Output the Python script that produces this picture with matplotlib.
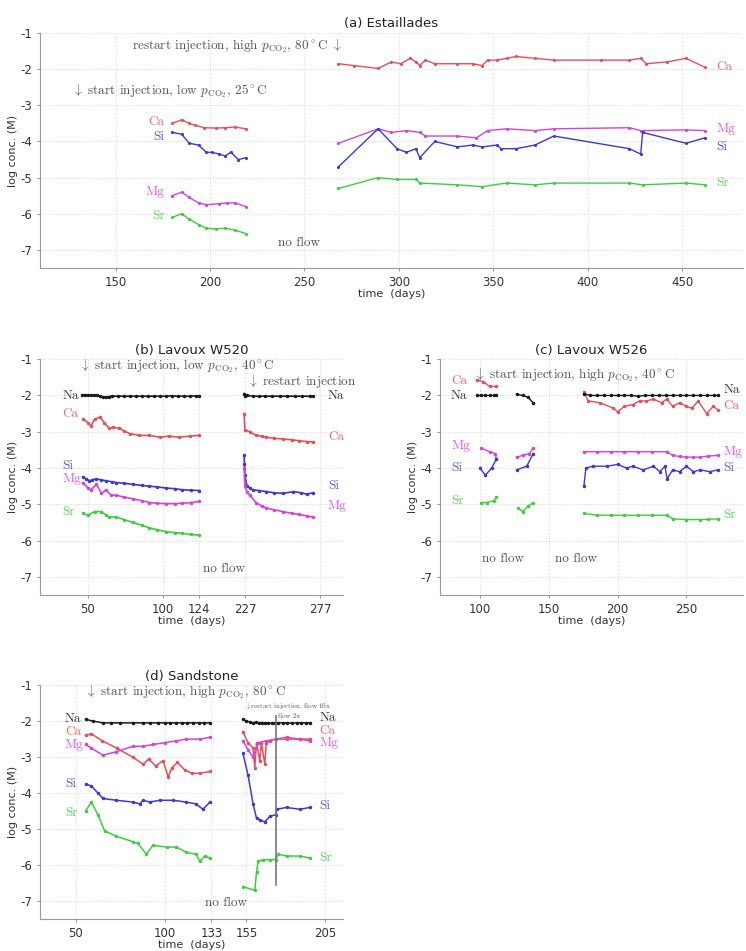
import numpy as np
import matplotlib.pyplot as plt

plt.rcParams['mathtext.fontset'] = 'cm'
plt.rcParams['axes.unicode_minus'] = False

# colours of the species
C = {'Na': '#1a1a1a', 'Ca': '#e4505a', 'Mg': '#d444d4', 'Si': '#3a3ad2', 'Sr': '#3fcc3f'}
ANN = '#555555'

# ---------------- (a) Estaillades ----------------
a_ca1_t = [180, 185, 189, 192, 197, 203, 208, 213, 219]
a_ca1_v = [-3.5, -3.4, -3.5, -3.55, -3.62, -3.63, -3.62, -3.6, -3.65]
a_si1_t = [180, 185, 189, 194, 198, 201, 205, 208, 211, 215, 219]
a_si1_v = [-3.75, -3.8, -4.05, -4.1, -4.3, -4.3, -4.35, -4.4, -4.3, -4.5, -4.45]
a_mg1_t = [180, 185, 189, 194, 198, 205, 209, 213, 219]
a_mg1_v = [-5.5, -5.4, -5.55, -5.7, -5.75, -5.72, -5.7, -5.7, -5.8]
a_sr1_t = [180, 185, 189, 194, 198, 203, 208, 213, 219]
a_sr1_v = [-6.1, -6.0, -6.15, -6.3, -6.4, -6.42, -6.4, -6.45, -6.55]

a_ca2_t = [268, 276, 289, 296, 301, 306, 309, 311, 314, 319, 331, 339, 344, 347, 352, 357, 362, 372,
           382, 407, 422, 428, 431, 442, 452, 462]
a_ca2_v = [-1.85, -1.9, -1.98, -1.8, -1.85, -1.7, -1.8, -1.9, -1.75, -1.85, -1.85, -1.85, -1.9, -1.75,
           -1.75, -1.7, -1.65, -1.7, -1.75, -1.75, -1.75, -1.7, -1.85, -1.8, -1.7, -1.95]
a_mg2_t = [268, 289, 296, 304, 311, 314, 331, 341, 347, 357, 372, 382, 422, 428, 452, 462]
a_mg2_v = [-4.05, -3.65, -3.75, -3.7, -3.75, -3.85, -3.85, -3.9, -3.7, -3.65, -3.7, -3.65, -3.62,
           -3.7, -3.68, -3.7]
a_si2_t = [268, 289, 299, 304, 309, 311, 319, 331, 339, 344, 352, 354, 362, 372, 382, 422, 428, 429,
           452, 462]
a_si2_v = [-4.7, -3.65, -4.2, -4.3, -4.2, -4.45, -4.0, -4.15, -4.1, -4.15, -4.1, -4.2, -4.2, -4.1,
           -3.85, -4.2, -4.35, -3.75, -4.05, -3.9]
a_sr2_t = [268, 289, 299, 309, 311, 331, 344, 357, 372, 382, 422, 429, 452, 462]
a_sr2_v = [-5.3, -5.0, -5.05, -5.05, -5.15, -5.2, -5.25, -5.15, -5.2, -5.15, -5.15, -5.2, -5.15, -5.2]

# ---------------- (b) Lavoux W520 ----------------
b_ticks = [50, 100, 124, 227, 277]
b_days = [0, 124, 227, 400]
b_pos = [0, 124, 155, 328]

b_na1_t = [46, 48, 50, 52, 54, 56, 58, 60, 62, 64, 66, 70, 74, 78, 82, 86, 90, 94, 98, 102, 106, 110,
           114, 118, 122, 125]
b_na1_v = [-2.0, -1.98, -2.0, -1.99, -2.0, -2.0, -2.02, -2.04, -2.05, -2.03, -2.02, -2.02, -2.02,
           -2.02, -2.02, -2.02, -2.02, -2.02, -2.02, -2.02, -2.01, -2.02, -2.02, -2.02, -2.01, -2.01]
b_ca1_t = [46.7, 50, 52, 54.4, 58, 61, 64, 67, 71, 74, 78, 84, 91, 98, 104, 111, 118, 124]
b_ca1_v = [-2.65, -2.75, -2.85, -2.65, -2.6, -2.75, -2.9, -2.88, -2.9, -2.98, -3.05, -3.1, -3.1,
           -3.15, -3.12, -3.15, -3.12, -3.1]
b_si1_t = [46.7, 49, 51, 53, 55.6, 59, 62, 66, 69, 74, 80, 86, 91, 96, 102, 108, 113, 119, 125]
b_si1_v = [-4.25, -4.3, -4.35, -4.32, -4.3, -4.33, -4.35, -4.38, -4.4, -4.42, -4.45, -4.48, -4.5,
           -4.52, -4.55, -4.57, -4.6, -4.61, -4.62]
b_mg1_t = [46.7, 50, 52, 55.6, 59, 62, 65.5, 69, 74, 80, 86, 91, 96, 102, 108, 113, 119, 125]
b_mg1_v = [-4.4, -4.55, -4.6, -4.45, -4.7, -4.6, -4.75, -4.75, -4.8, -4.85, -4.9, -4.95, -4.97,
           -4.98, -4.98, -4.97, -4.95, -4.92]
b_sr1_t = [46.7, 50, 54.4, 59, 62, 64, 69, 74, 80, 86, 91, 96, 102, 108, 113, 119, 125]
b_sr1_v = [-5.25, -5.3, -5.2, -5.2, -5.3, -5.35, -5.35, -5.42, -5.5, -5.58, -5.65, -5.7, -5.75,
           -5.78, -5.8, -5.83, -5.85]

b_na2_t = [224, 226, 228, 232, 236, 240, 245, 250, 255, 260, 265, 270, 272]
b_na2_v = [-1.95, -2.02, -2.0, -2.02, -2.02, -2.02, -2.02, -2.02, -2.02, -2.02, -2.02, -2.02, -2.02]
b_ca2_t = [224, 226, 230, 234, 238, 241, 246, 252, 258, 263, 268, 272]
b_ca2_v = [-2.5, -2.95, -3.0, -3.1, -3.12, -3.15, -3.18, -3.2, -3.22, -3.25, -3.27, -3.28]
b_si2_t = [224, 225, 226, 228, 230, 232, 236, 241, 246, 252, 259, 264, 268, 272]
b_si2_v = [-3.65, -3.9, -4.2, -4.5, -4.55, -4.6, -4.62, -4.65, -4.68, -4.7, -4.65, -4.68, -4.72, -4.68]
b_mg2_t = [224, 226, 228, 230, 234, 238, 241, 246, 252, 258, 263, 268, 272]
b_mg2_v = [-4.0, -4.5, -4.65, -4.75, -4.95, -5.05, -5.1, -5.15, -5.2, -5.25, -5.28, -5.32, -5.35]

# ---------------- (c) Lavoux W526 ----------------
c_ca1_t = [97.6, 102.4, 107, 112]
c_ca1_v = [-1.57, -1.62, -1.75, -1.75]
c_na1_t = [98, 101, 104, 107, 110, 112]
c_na1_v = [-2.0, -2.0, -2.0, -2.0, -2.0, -2.0]
c_mg1_t = [101, 107, 111, 112]
c_mg1_v = [-3.45, -3.55, -3.6, -3.75]
c_si1_t = [100, 104, 108.5, 112]
c_si1_v = [-4.0, -4.2, -4.0, -3.75]
c_sr1_t = [101, 105, 110, 112]
c_sr1_v = [-4.95, -4.95, -4.9, -4.8]

c_na1b_t = [126.6, 131, 135, 138.7]
c_na1b_v = [-1.97, -2.0, -2.05, -2.2]
c_mg1b_t = [126.6, 131, 136, 138.7]
c_mg1b_v = [-3.7, -3.65, -3.6, -3.45]
c_si1b_t = [126.6, 134, 138.7]
c_si1b_v = [-4.05, -3.95, -3.6]
c_sr1b_t = [128, 131, 135, 138.7]
c_sr1b_v = [-5.1, -5.2, -5.05, -4.95]

c_na2_t = [175.5, 180, 185, 190, 195, 200, 205, 210, 215, 220, 225, 230, 235, 240, 245, 250, 255,
           260, 265, 270, 273]
c_na2_v = [-1.95, -2.0, -2.0, -2.0, -2.0, -2.0, -2.0, -2.0, -2.02, -2.0, -2.0, -2.0, -2.0, -2.0,
           -2.0, -2.0, -2.0, -2.0, -2.0, -2.0, -2.0]
c_ca2_t = [175.5, 178.7, 187, 197, 200, 205, 211, 216, 221, 226, 232, 235.6, 240, 245, 250, 254,
           258.6, 264.6, 269.5, 273]
c_ca2_v = [-1.9, -2.15, -2.2, -2.35, -2.45, -2.3, -2.25, -2.15, -2.15, -2.1, -2.2, -2.1, -2.3, -2.2,
           -2.3, -2.35, -2.15, -2.5, -2.3, -2.4]
c_mg2_t = [175.5, 185, 195, 205, 215, 225, 235.6, 240, 245, 250, 255, 260, 266, 273]
c_mg2_v = [-3.55, -3.55, -3.55, -3.55, -3.55, -3.55, -3.55, -3.65, -3.68, -3.7, -3.7, -3.7, -3.67,
           -3.65]
c_si2_t = [175.5, 177, 182, 192, 200, 206.5, 211, 218.6, 226, 230.7, 234.4, 236, 240, 245, 250, 255,
           260, 267, 273]
c_si2_v = [-4.5, -4.0, -3.95, -3.95, -3.9, -4.0, -3.95, -4.05, -3.95, -4.1, -3.95, -4.3, -4.05, -4.1,
           -3.95, -4.1, -4.05, -4.1, -4.05]
c_sr2_t = [175.5, 185, 195, 205, 215, 225, 235.6, 240, 250, 260, 266, 273]
c_sr2_v = [-5.25, -5.3, -5.3, -5.3, -5.3, -5.3, -5.3, -5.4, -5.42, -5.42, -5.41, -5.4]

# ---------------- (d) Sandstone ----------------
d_ticks = [50, 100, 133, 155, 205]
d_days = [0, 50, 100, 133, 155, 205, 300]
d_pos = [0, 50, 100, 126.2, 145.9, 189.9, 273.5]

d_na1_t = [55.6, 59.7, 65.4, 70, 75, 82, 88, 92, 96, 100, 104, 108, 112, 116, 120, 124, 128, 132]
d_na1_v = [-1.95, -2.0, -2.05, -2.05, -2.05, -2.05, -2.05, -2.05, -2.05, -2.05, -2.05, -2.05, -2.05,
           -2.05, -2.05, -2.05, -2.05, -2.05]
d_ca1_t = [55.6, 58.8, 65, 73, 82, 88, 91, 95, 99, 102.5, 105, 109, 114, 119, 125, 132]
d_ca1_v = [-2.4, -2.35, -2.55, -2.75, -3.0, -3.2, -3.05, -3.25, -3.1, -3.55, -3.3, -3.15, -3.35,
           -3.45, -3.45, -3.4]
d_mg1_t = [55.6, 58.8, 65.4, 72.8, 82.2, 87.8, 93.4, 100, 108, 115, 125, 132]
d_mg1_v = [-2.65, -2.75, -2.95, -2.85, -2.7, -2.7, -2.65, -2.6, -2.55, -2.5, -2.5, -2.45]
d_si1_t = [55.6, 58.8, 62.5, 65.4, 72.8, 82.2, 86, 87.8, 91.6, 97.2, 106, 115, 122, 127, 132]
d_si1_v = [-3.75, -3.8, -4.0, -4.15, -4.2, -4.25, -4.3, -4.2, -4.25, -4.2, -4.2, -4.25, -4.3, -4.45,
           -4.25]
d_sr1_t = [55.6, 58.8, 62.5, 66.3, 72.8, 82.2, 85, 89.7, 93.4, 101.3, 108.3, 115.4, 122.4, 124.8,
           128.3, 131.9]
d_sr1_v = [-4.5, -4.25, -4.6, -5.05, -5.2, -5.35, -5.4, -5.7, -5.45, -5.5, -5.5, -5.65, -5.7, -5.9,
           -5.75, -5.8]

d_na2_t = [152.8, 155, 157, 159, 161, 163, 165, 167, 169, 171, 173, 175, 178, 181, 184, 187, 190,
           193, 195.4]
d_na2_v = [-1.95, -2.0, -2.02, -2.05, -2.03, -2.05, -2.04, -2.05, -2.05, -2.06, -2.05, -2.05, -2.05,
           -2.05, -2.06, -2.05, -2.05, -2.05, -2.05]
d_ca2_t = [152.8, 156, 159.2, 160.3, 161.4, 163.5, 164.5, 166.7, 167.6, 169.9, 173.7, 180.6, 189,
           195.4]
d_ca2_v = [-2.3, -2.6, -2.75, -3.3, -2.6, -3.1, -2.6, -3.2, -2.6, -2.55, -2.5, -2.45, -2.5, -2.5]
d_mg2_t = [152.8, 156, 159.2, 162.4, 167.6, 173.7, 180.6, 189, 195.4]
d_mg2_v = [-2.55, -2.8, -3.0, -2.6, -2.55, -2.5, -2.5, -2.5, -2.55]
d_si2_t = [152.8, 156, 159.2, 161.4, 163.5, 166.7, 169.9, 173.7, 174.2, 180.6, 189, 195.4]
d_si2_v = [-2.9, -3.5, -4.3, -4.7, -4.75, -4.8, -4.65, -4.6, -4.45, -4.4, -4.45, -4.4]
d_sr2_t = [152.8, 160.3, 161.4, 162.4, 165.6, 169.9, 173.7, 175.2, 180.6, 189, 195.4]
d_sr2_v = [-6.6, -6.7, -6.2, -5.9, -5.85, -5.85, -5.85, -5.7, -5.75, -5.75, -5.8]
d_flow_change = 173.7


def style(ax, title):
    ax.set_ylim(-7.5, -1)
    ax.set_yticks([-1, -2, -3, -4, -5, -6, -7])
    ax.grid(True, color='#d8d8d8', linestyle=':', linewidth=0.7)
    for s in ['top', 'right']:
        ax.spines[s].set_visible(False)
    for s in ['left', 'bottom']:
        ax.spines[s].set_color('#9a9a9a')
    ax.tick_params(labelsize=8.5, colors='#9a9a9a', labelcolor='#333333', length=2)
    ax.set_title(title, fontsize=9.5, pad=4, color='#222222')
    ax.set_xlabel('time  (days)', fontsize=8, labelpad=0, color='#333333')
    ax.set_ylabel('log conc. (M)', fontsize=8, labelpad=2, color='#333333')


def line(ax, t, v, el, f=None, lw=1.0, ms=3):
    x = np.asarray(t, float) if f is None else f(np.asarray(t, float))
    ax.plot(x, v, '.-', color=C[el], lw=lw, ms=ms)


def lab(ax, x, y, el, ha='left'):
    ax.text(x, y, el, color=C[el], fontsize=9.5, family='cmr10', ha=ha, va='center', alpha=0.85)


def note(ax, x, y, s, size=9.5, ha='left'):
    ax.text(x, y, s, color=ANN, fontsize=size, family='cmr10', ha=ha, va='center')


fig = plt.figure(figsize=(7.46, 9.51), dpi=100)
ax_a = fig.add_axes([0.0536, 0.7182, 0.942, 0.2471])
ax_b = fig.add_axes([0.0536, 0.3743, 0.406, 0.248])
ax_c = fig.add_axes([0.5898, 0.3743, 0.406, 0.248])
ax_d = fig.add_axes([0.0536, 0.0336, 0.406, 0.246])

# (a)
style(ax_a, '(a) Estaillades')
ax_a.set_xlim(110, 482)
ax_a.set_xticks([150, 200, 250, 300, 350, 400, 450])
for t, v, el in [(a_ca1_t, a_ca1_v, 'Ca'), (a_si1_t, a_si1_v, 'Si'), (a_mg1_t, a_mg1_v, 'Mg'),
                 (a_sr1_t, a_sr1_v, 'Sr'), (a_ca2_t, a_ca2_v, 'Ca'), (a_mg2_t, a_mg2_v, 'Mg'),
                 (a_si2_t, a_si2_v, 'Si'), (a_sr2_t, a_sr2_v, 'Sr')]:
    line(ax_a, t, v, el, lw=1.0, ms=2.5)
for y, el in [(-3.45, 'Ca'), (-3.87, 'Si'), (-5.4, 'Mg'), (-6.05, 'Sr')]:
    lab(ax_a, 176, y, el, ha='right')
for y, el in [(-1.95, 'Ca'), (-3.65, 'Mg'), (-4.15, 'Si'), (-5.15, 'Sr')]:
    lab(ax_a, 468, y, el)
note(ax_a, 270, -1.37, r'restart injection, high $p_{\mathrm{CO}_2}$, 80$^\circ$C $\downarrow$', ha='right')
note(ax_a, 127, -2.6, r'$\downarrow$ start injection, low $p_{\mathrm{CO}_2}$, 25$^\circ$C')
note(ax_a, 247, -6.8, 'no flow', ha='center')

# (b)
style(ax_b, '(b) Lavoux W520')
fb = lambda t: np.interp(t, b_days, b_pos)
ax_b.set_xlim(18, 220)
ax_b.set_xticks(fb(np.array(b_ticks, float)))
ax_b.set_xticklabels([str(t) for t in b_ticks])
for t, v, el in [(b_na1_t, b_na1_v, 'Na'), (b_ca1_t, b_ca1_v, 'Ca'), (b_si1_t, b_si1_v, 'Si'),
                 (b_mg1_t, b_mg1_v, 'Mg'), (b_sr1_t, b_sr1_v, 'Sr'), (b_na2_t, b_na2_v, 'Na'),
                 (b_ca2_t, b_ca2_v, 'Ca'), (b_si2_t, b_si2_v, 'Si'), (b_mg2_t, b_mg2_v, 'Mg')]:
    line(ax_b, t, v, el, f=fb, lw=1.2, ms=3)
for y, el in [(-2.0, 'Na'), (-2.5, 'Ca'), (-3.93, 'Si'), (-4.3, 'Mg'), (-5.2, 'Sr')]:
    lab(ax_b, 33, y, el)
for y, el in [(-2.0, 'Na'), (-3.15, 'Ca'), (-4.5, 'Si'), (-5.05, 'Mg')]:
    lab(ax_b, 210, y, el)
note(ax_b, 44, -1.2, r'$\downarrow$ start injection, low $p_{\mathrm{CO}_2}$, 40$^\circ$C')
note(ax_b, 156, -1.62, r'$\downarrow$ restart injection')
note(ax_b, 141, -6.77, 'no flow', ha='center')

# (c)
style(ax_c, '(c) Lavoux W526')
ax_c.set_xlim(71, 291)
ax_c.set_xticks([100, 150, 200, 250])
for t, v, el in [(c_ca1_t, c_ca1_v, 'Ca'), (c_na1_t, c_na1_v, 'Na'), (c_mg1_t, c_mg1_v, 'Mg'),
                 (c_si1_t, c_si1_v, 'Si'), (c_sr1_t, c_sr1_v, 'Sr'), (c_na1b_t, c_na1b_v, 'Na'),
                 (c_mg1b_t, c_mg1b_v, 'Mg'), (c_si1b_t, c_si1b_v, 'Si'), (c_sr1b_t, c_sr1b_v, 'Sr'),
                 (c_ca2_t, c_ca2_v, 'Ca'), (c_na2_t, c_na2_v, 'Na'), (c_mg2_t, c_mg2_v, 'Mg'),
                 (c_si2_t, c_si2_v, 'Si'), (c_sr2_t, c_sr2_v, 'Sr')]:
    line(ax_c, t, v, el, lw=1.0, ms=3)
for y, el in [(-1.6, 'Ca'), (-2.0, 'Na'), (-3.4, 'Mg'), (-4.0, 'Si'), (-4.9, 'Sr')]:
    lab(ax_c, 79, y, el)
for y, el in [(-1.85, 'Na'), (-2.3, 'Ca'), (-3.55, 'Mg'), (-4.0, 'Si'), (-5.3, 'Sr')]:
    lab(ax_c, 277, y, el)
note(ax_c, 96, -1.45, r'$\downarrow$ start injection, high $p_{\mathrm{CO}_2}$, 40$^\circ$C')
note(ax_c, 117, -6.5, 'no flow', ha='center')
note(ax_c, 170, -6.5, 'no flow', ha='center')

# (d)
style(ax_d, '(d) Sandstone')
fd = lambda t: np.interp(t, d_days, d_pos)
ax_d.set_xlim(30, 200)
ax_d.set_xticks(fd(np.array(d_ticks, float)))
ax_d.set_xticklabels([str(t) for t in d_ticks])
for t, v, el in [(d_na1_t, d_na1_v, 'Na'), (d_ca1_t, d_ca1_v, 'Ca'), (d_mg1_t, d_mg1_v, 'Mg'),
                 (d_si1_t, d_si1_v, 'Si'), (d_sr1_t, d_sr1_v, 'Sr'), (d_na2_t, d_na2_v, 'Na'),
                 (d_ca2_t, d_ca2_v, 'Ca'), (d_mg2_t, d_mg2_v, 'Mg'), (d_si2_t, d_si2_v, 'Si'),
                 (d_sr2_t, d_sr2_v, 'Sr')]:
    line(ax_d, t, v, el, f=fd, lw=1.1, ms=3)
xv = fd(d_flow_change)
ax_d.plot([xv, xv], [-1.85, -6.55], color='#777777', lw=1.2)
for y, el in [(-1.95, 'Na'), (-2.3, 'Ca'), (-2.65, 'Mg'), (-3.75, 'Si'), (-4.55, 'Sr')]:
    lab(ax_d, 44, y, el)
for y, el in [(-1.92, 'Na'), (-2.26, 'Ca'), (-2.6, 'Mg'), (-4.35, 'Si'), (-5.8, 'Sr')]:
    lab(ax_d, 187, y, el)
note(ax_d, 55, -1.2, r'$\downarrow$ start injection, high $p_{\mathrm{CO}_2}$, 80$^\circ$C')
note(ax_d, 145, -1.6, r'$\downarrow$restart injection, flow 10x', size=5)
note(ax_d, xv + 1, -1.87, 'flow 2x', size=5)
note(ax_d, 134.6, -7.05, 'no flow', ha='center')

fig.savefig('out.png', dpi=100)
